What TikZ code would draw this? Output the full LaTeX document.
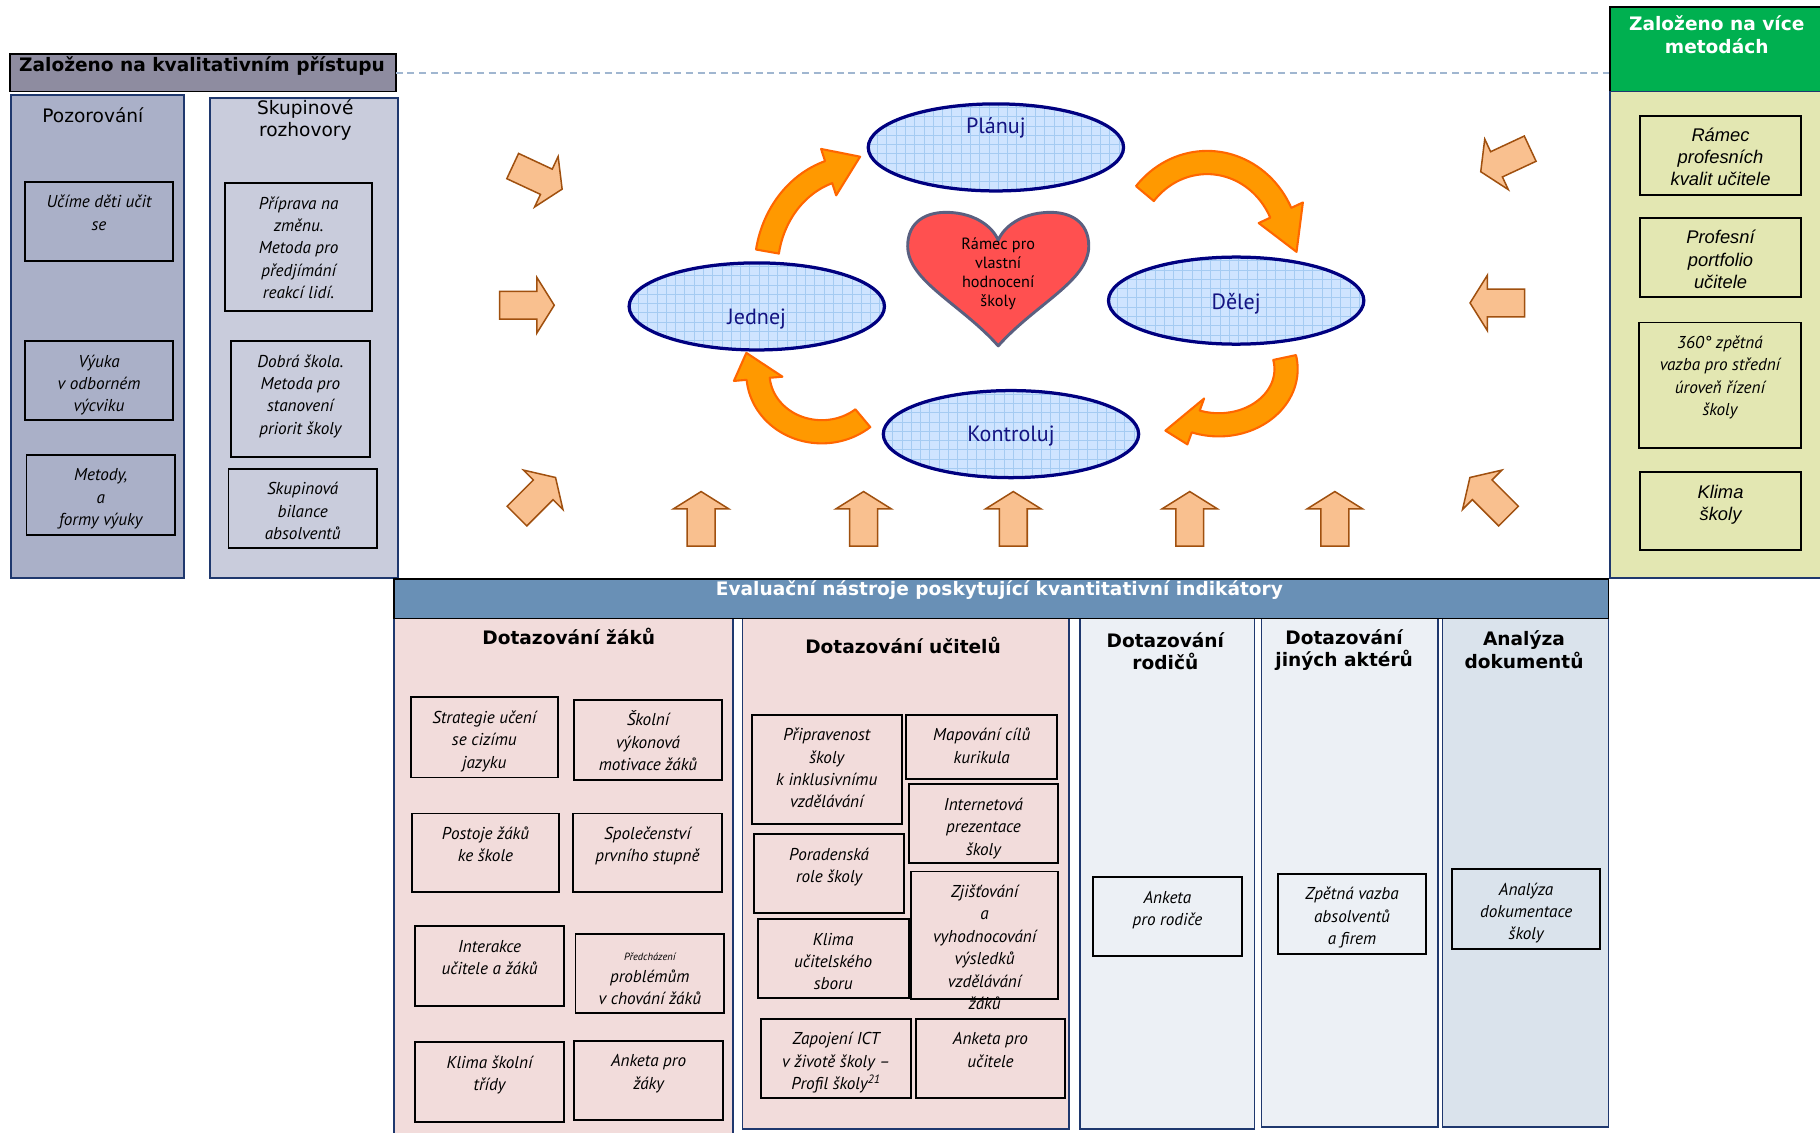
\documentclass[tikz,border=0pt]{standalone}
\usepackage{fontspec}
\setmainfont{DejaVu Sans}
\newfontfamily\dvs{DejaVu Sans}
\newfontfamily\gil{PT Sans}
\newfontfamily\ari{Liberation Sans}
\usetikzlibrary{shapes.geometric}
\definecolor{hdrgray}{RGB}{142,140,160}
\definecolor{pozc}{RGB}{170,176,200}
\definecolor{skuc}{RGB}{201,204,220}
\definecolor{navyb}{RGB}{31,56,110}
\definecolor{grn}{RGB}{0,176,80}
\definecolor{yelc}{RGB}{227,231,178}
\definecolor{bandc}{RGB}{105,144,182}
\definecolor{pinkc}{RGB}{242,220,219}
\definecolor{litec}{RGB}{236,240,245}
\definecolor{anac}{RGB}{218,227,236}
\definecolor{ellf}{RGB}{207,228,255}
\definecolor{ellg}{RGB}{165,203,242}
\definecolor{ellb}{RGB}{0,0,128}
\definecolor{elltxt}{RGB}{20,20,130}
\definecolor{heartf}{RGB}{255,80,80}
\definecolor{heartb}{RGB}{90,96,128}
\definecolor{orf}{RGB}{255,153,0}
\definecolor{orb}{RGB}{255,102,0}
\definecolor{pf}{RGB}{249,192,143}
\definecolor{pb}{RGB}{160,80,15}
\definecolor{dashc}{RGB}{160,182,208}
\newcommand\fsz[2]{\fontsize{#1}{#2}\selectfont}
\tikzset{
 bx/.style={draw=black, line width=1.6pt, inner sep=0pt},
 col/.style={draw=navyb, line width=1.5pt, inner sep=0pt},
 gi/.style={font=\gil\itshape\fsz{14.8}{19.3}, align=center, inner sep=0pt},
 ai/.style={font=\ari\itshape\fsz{15.8}{19}, align=center, inner sep=0pt},
 ttl/.style={font=\dvs\fsz{16}{19}, align=center, inner sep=0pt},
 bttl/.style={font=\dvs\bfseries\fsz{16}{19.5}, align=center, inner sep=0pt},
 elt/.style={font=\gil\fsz{19}{22}, text=elltxt, inner sep=0pt},
 farrow/.style={fill=pf, draw=pb, line width=1.3pt, line join=miter},
 carrow/.style={fill=orf, draw=orb, line width=1.8pt, line join=round},
 ell/.style={ellipse, draw=ellb, line width=2.8pt, fill=ellf, minimum width=220pt, minimum height=75pt, inner sep=0pt,
  path picture={
   \foreach \k in {0,...,28}{\draw[ellg, line width=0.6pt] ([xshift=\k*8pt]path picture bounding box.south west) -- ([xshift=\k*8pt]path picture bounding box.north west);}
   \foreach \k in {0,...,10}{\draw[ellg, line width=0.6pt] ([yshift=\k*8pt]path picture bounding box.south west) -- ([yshift=\k*8pt]path picture bounding box.south east);}
  }},
 flatarrow/.pic={\path[farrow] (-23.5,-12) -- (8.5,-12) -- (8.5,-24) -- (23.5,0) -- (8.5,24) -- (8.5,12) -- (-23.5,12) -- cycle;}
}
% box with top-aligned text: name x1 y1 x2 y2 style text
\newcommand\tbx[7]{%
 \node[bx, anchor=north west, minimum width={(#4-#2)*1pt}, minimum height={(#5-#3)*1pt}] (#1) at (#2,#3) {};
 \node[#6, anchor=north] (#1t) at ([yshift=-10pt]#1.north) {\rule{0pt}{13pt}#7};}
% column node: name x1 y1 x2 y2 fill
\newcommand\cnode[6]{%
 \node[col, fill=#6, anchor=north west, minimum width={(#4-#2)*1pt}, minimum height={(#5-#3)*1pt}] (#1) at (#2,#3) {};}
% curved arrow: cx cy rx ry a1 a2 tip-point halfwidth
\newcommand\carr[8]{%
 \path[carrow] plot[domain=#5:#6,samples=40] ({#1+(#3+#8)*cos(\x)},{#2+(#4+#8)*sin(\x)})
  -- ({#1+(#3+2.1*#8)*cos(#6)},{#2+(#4+2.1*#8)*sin(#6)})
  -- #7
  -- ({#1+(#3-2.1*#8)*cos(#6)},{#2+(#4-2.1*#8)*sin(#6)})
  -- plot[domain=#6:#5,samples=40] ({#1+(#3-#8)*cos(\x)},{#2+(#4-#8)*sin(\x)}) -- cycle;}
\begin{document}
\begin{tikzpicture}[x=1pt,y=-1pt]
\useasboundingbox (0,0) rectangle (1568,976);
\fill[white] (0,0) rectangle (1568,976);

% ---------- top-left header and dashed line
\node[draw=black, line width=1.6pt, fill=hdrgray, anchor=north west, minimum width=332pt, minimum height=32pt, inner sep=0pt] (hq) at (8,46) {};
\node[font=\dvs\bfseries\fsz{16}{19}, inner sep=0pt] (hqt) at (174,57) {Založeno na kvalitativním přístupu};
\coordinate (d1) at (341,63);
\coordinate (d2) at (1386,63);
\draw[dashc, line width=1.5pt, dash pattern=on 6pt off 4pt] (d1) -- (d2);

% ---------- Pozorovani
\cnode{poz}{9}{81}{158}{497}{pozc}
\node[ttl] (pozt) at (80,99) {Pozorování};
\tbx{p1}{21}{156}{148}{224}{gi}{Učíme děti učit\\se}
\tbx{p2}{21}{293}{148}{361}{gi}{Výuka\\v odborném\\výcviku}
\tbx{p3}{22}{391}{150}{460}{gi}{Metody,\\a\\formy výuky}

% ---------- Skupinove rozhovory
\cnode{sku}{180}{84}{342}{497}{skuc}
\node[ttl] (skut) at (263,103) {Skupinové\\rozhovory};
\tbx{s1}{193}{157}{320}{267}{gi}{Příprava na\\změnu.\\Metoda pro\\předjímání\\reakcí lidí.}
\tbx{s2}{198}{293}{318}{393}{gi}{Dobrá škola.\\Metoda pro\\stanovení\\priorit školy}
\tbx{s3}{196}{403}{324}{471}{gi}{Skupinová\\bilance\\absolventů}

% ---------- right green / yellow
\node[draw=black, line width=1.5pt, fill=grn, anchor=north west, minimum width=182pt, minimum height=73pt, inner sep=0pt] (gh) at (1386,5) {};
\node[font=\dvs\bfseries\fsz{16}{20}, text=white, align=center, inner sep=0pt] (ght) at (1479,30) {Založeno na více\\metodách};
\cnode{yel}{1386}{78}{1568}{497}{yelc}
\tbx{y1}{1412}{99}{1551}{167}{ai}{Rámec\\profesních\\kvalit učitele}
\tbx{y2}{1412}{187}{1551}{255}{ai}{Profesní\\portfolio\\učitele}
\tbx{y3}{1411}{277}{1551}{385}{gi}{360° zpětná\\vazba pro střední\\úroveň řízení\\školy}
\tbx{y4}{1412}{406}{1551}{473}{ai}{Klima\\školy}

% ---------- bottom columns
\cnode{zak}{339}{532}{631}{990}{pinkc}
\cnode{uci}{639}{532}{920}{972}{pinkc}
\cnode{rod}{930}{532}{1080}{972}{litec}
\cnode{jin}{1086}{532}{1238}{970}{litec}
\cnode{ana}{1242}{530}{1385}{970}{anac}
\node[draw=black, line width=1.5pt, fill=bandc, anchor=north west, minimum width=1046pt, minimum height=34pt, inner sep=0pt] (band) at (339,498) {};
\node[font=\dvs\bfseries\fsz{16}{19}, text=white, inner sep=0pt] (bandt) at (861,508) {Evaluační nástroje poskytující kvantitativní indikátory};

\node[bttl] (zakt) at (490,548) {Dotazování žáků};
\node[bttl] (ucit) at (778,556) {Dotazování učitelů};
\node[bttl] (rodt) at (1004,561) {Dotazování\\rodičů};
\node[bttl] (jint) at (1158,560) {Dotazování\\jiných aktérů};
\node[bttl] (anat) at (1313,560) {Analýza\\dokumentů};

\tbx{z1}{353}{600}{480}{669}{gi}{Strategie učení\\se cizímu\\jazyku}
\tbx{z2}{494}{602}{621}{671}{gi}{Školní\\výkonová\\motivace žáků}
\tbx{z3}{354}{700}{481}{768}{gi}{Postoje žáků\\ke škole}
\tbx{z4}{493}{700}{621}{768}{gi}{Společenství\\prvního stupně}
\tbx{z5}{357}{797}{485}{866}{gi}{Interakce\\učitele a žáků}
\tbx{z6}{495}{804}{623}{872}{gi}{{\fsz{9}{10}Předcházení}\\problémům\\v chování žáků}
\tbx{z7}{357}{897}{485}{966}{gi}{Klima školní\\třídy}
\tbx{z8}{494}{896}{622}{964}{gi}{Anketa pro\\žáky}

\tbx{u1}{647}{615}{776}{709}{gi}{Připravenost\\školy\\k inklusivnímu\\vzdělávání}
\tbx{u2}{780}{615}{910}{670}{gi}{Mapování cílů\\kurikula}
\tbx{u3}{782}{675}{911}{743}{gi}{Internetová\\prezentace\\školy}
\tbx{u4}{649}{718}{778}{786}{gi}{Poradenská\\role školy}
\tbx{u5}{652}{791}{782}{859}{gi}{Klima\\učitelského\\sboru}
\tbx{u6}{784}{750}{911}{860}{gi}{Zjišťování\\a\\vyhodnocování\\výsledků\\vzdělávání\\žáků}
\tbx{u7}{655}{877}{784}{945}{gi}{Zapojení ICT\\v životě školy –\\Profil školy\textsuperscript{21}}
\tbx{u8}{788}{877}{917}{945}{gi}{Anketa pro\\učitele}

\tbx{r1}{941}{755}{1069}{823}{gi}{Anketa\\pro rodiče}
\tbx{j1}{1100}{752}{1228}{821}{gi}{Zpětná vazba\\absolventů\\a firem}
\tbx{a1}{1250}{748}{1378}{817}{gi}{Analýza\\dokumentace\\školy}

% ---------- curved orange arrows
\carr{738}{232}{78}{88}{190}{252}{(741,135)}{10}
\carr{1040}{215}{70}{75}{220}{335}{(1117,217)}{10}
\carr{1050}{318}{58}{48}{-12}{110}{(1004,371)}{10}
\carr{708}{322}{55}{50}{50}{175}{(643,304)}{10}

% ---------- ellipses
\node[ell] (plan) at (858,127) {};
\node[elt] (plant) at (858,110) {Plánuj};
\node[ell] (jed) at (652,264) {};
\node[elt] (jedt) at (652,275) {Jednej};
\node[ell] (del) at (1065,259) {};
\node[elt] (delt) at (1065,262) {Dělej};
\node[ell] (kon) at (871,374) {};
\node[elt] (kont) at (871,376) {Kontroluj};

% ---------- heart
\path[fill=heartf, draw=heartb, line width=2.5pt, line join=round]
 (860,298) .. controls (828,262) and (782,242) .. (782,212)
 .. controls (782,191) and (798,182) .. (818,183)
 .. controls (840,184) and (855,195) .. (860,207)
 .. controls (865,195) and (880,184) .. (902,183)
 .. controls (922,182) and (938,191) .. (938,212)
 .. controls (938,242) and (892,262) .. (860,298) -- cycle;
\node[font=\gil\fsz{14}{16.3}, align=center, inner sep=0pt] (heartt) at (860,236) {Rámec pro\\vlastní\\hodnocení\\školy};

% ---------- flat arrows
\pic[rotate=-25] at (463,153) {flatarrow};
\pic at (454,263) {flatarrow};
\pic[rotate=45] at (462,428) {flatarrow};
\pic[rotate=205] at (1297,138) {flatarrow};
\pic[rotate=180] at (1290,261) {flatarrow};
\pic[rotate=135] at (1283,428) {flatarrow};
\foreach \ax in {604,744,873,1025,1150}{\pic[rotate=90] at (\ax,447) {flatarrow};}
\end{tikzpicture}
\end{document}
